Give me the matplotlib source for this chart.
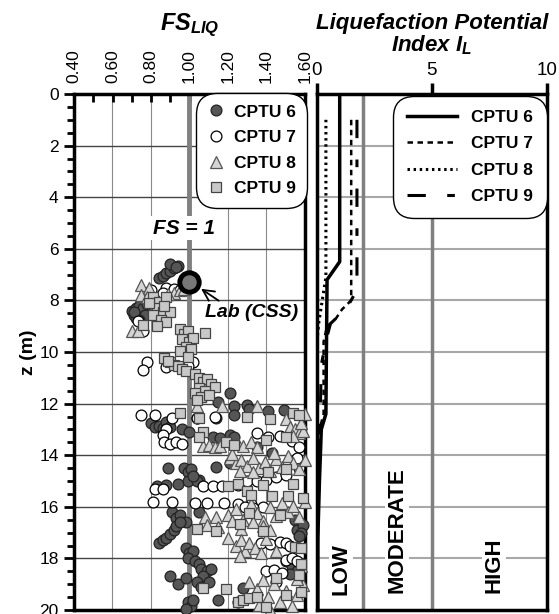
import numpy as np
import matplotlib.pyplot as plt

plt.rcParams['font.family'] = ['Liberation Sans', 'DejaVu Sans']
plt.rcParams['mathtext.fontset'] = 'custom'
plt.rcParams['mathtext.it'] = 'Liberation Sans:bold:italic'
plt.rcParams['mathtext.rm'] = 'Liberation Sans:bold:italic'
plt.rcParams['mathtext.bf'] = 'Liberation Sans:bold:italic'

# FS_LIQ points (FS, z)
cptu6 = [(0.84, 7.15), (0.86, 7.05), (0.88, 6.95), (0.90, 6.85), (0.92, 6.75), (0.94, 6.65), (0.90, 6.6), (0.93, 6.7),
         (0.70, 8.40), (0.71, 8.55), (0.72, 8.30), (0.73, 8.65), (0.74, 8.20), (0.75, 8.45), (0.76, 8.30), (0.77, 8.55),
         (0.72, 8.70), (0.74, 8.75), (0.78, 8.15), (0.71, 8.45),
         (1.07, 11.70), (1.15, 11.95), (1.21, 11.60), (1.23, 12.10), (1.23, 12.45), (1.30, 12.05), (1.31, 12.20),
         (1.41, 12.30), (1.49, 12.25),
         (0.80, 12.75), (0.82, 12.90), (0.84, 12.85), (0.86, 12.95), (0.88, 12.70), (0.90, 12.90), (0.96, 13.00),
         (1.00, 13.10), (1.04, 12.55), (1.14, 12.55), (1.12, 13.30), (1.21, 13.20), (1.16, 13.35), (1.23, 13.30),
         (1.35, 13.70), (1.43, 13.90), (1.21, 14.30), (1.14, 14.45),
         (0.89, 14.50), (0.97, 14.50), (0.99, 14.65), (1.01, 14.55), (1.05, 14.95), (0.83, 15.20), (0.88, 15.15),
         (0.94, 15.10), (0.99, 15.00), (1.04, 15.00), (1.02, 14.80),
         (0.91, 16.20), (0.93, 16.45), (0.95, 16.30), (0.98, 16.60), (1.05, 16.20),
         (0.84, 17.40), (0.86, 17.30), (0.88, 17.20), (0.90, 17.05), (0.92, 16.90), (0.93, 16.75), (0.95, 16.60),
         (0.98, 17.60), (1.00, 17.80), (1.02, 17.70), (0.99, 18.00), (1.03, 18.10), (1.05, 18.20), (1.06, 18.40),
         (1.09, 18.50), (1.11, 18.40), (1.07, 18.70), (1.04, 18.90), (1.06, 19.10), (1.10, 18.90),
         (0.90, 18.70), (0.94, 19.00), (0.98, 18.75), (0.99, 19.70), (1.01, 19.85), (0.98, 19.95), (1.02, 19.60),
         (1.15, 19.60), (1.28, 19.15),
         (1.55, 16.50), (1.57, 16.60), (1.58, 16.80), (1.56, 16.90), (1.59, 16.70), (1.58, 17.00), (1.57, 17.15),
         (1.50, 18.10), (1.53, 18.30), (1.56, 18.50), (1.52, 18.60)]

cptu7 = [(0.88, 7.50), (0.92, 7.55), (0.95, 7.60), (0.86, 7.70), (0.80, 7.60), (0.76, 9.20), (0.73, 8.80),
         (0.78, 10.40), (0.76, 10.70), (0.88, 10.60), (1.02, 10.40), (0.99, 10.55),
         (0.75, 12.45), (0.82, 12.45), (0.91, 12.55), (1.04, 12.55), (1.13, 12.50), (0.88, 13.00), (0.86, 13.20),
         (1.35, 13.15), (1.41, 13.30), (1.47, 13.25), (1.53, 13.45),
         (0.87, 13.50), (0.90, 13.55), (0.93, 13.50), (0.96, 13.55),
         (1.07, 15.20), (1.12, 15.20), (1.17, 15.20), (1.25, 15.15), (1.30, 15.00), (1.35, 15.00), (1.40, 14.95),
         (1.45, 14.85), (1.50, 14.75), (1.57, 14.50), (1.57, 13.70), (1.56, 14.10),
         (0.82, 15.30), (0.86, 15.30),
         (0.81, 15.80), (0.91, 15.80), (1.03, 15.85), (1.09, 15.85), (1.18, 15.85), (1.25, 15.90), (1.32, 15.90),
         (1.38, 16.00), (1.33, 16.05), (1.29, 16.00),
         (1.37, 17.40), (1.42, 17.45), (1.47, 17.35), (1.50, 17.40), (1.52, 17.50),
         (1.40, 18.50), (1.44, 18.45), (1.48, 18.55), (1.50, 18.05), (1.53, 18.00), (1.56, 18.10), (1.25, 19.70),
         (1.45, 18.90)]

cptu8 = [(0.75, 7.40), (0.79, 7.50), (0.75, 7.80), (0.78, 7.85), (0.70, 9.20), (0.73, 9.20), (0.92, 7.70),
         (0.95, 7.60), (0.97, 7.55), (0.89, 7.75),
         (1.04, 12.10), (1.17, 12.10), (1.35, 12.10), (1.50, 12.60), (1.60, 12.40), (1.52, 12.90), (1.55, 13.00),
         (1.57, 13.15), (1.59, 13.05), (1.54, 13.25), (1.58, 12.75),
         (1.07, 13.65), (1.10, 13.60), (1.13, 13.70), (1.16, 13.65), (1.25, 13.55), (1.28, 13.65), (1.32, 13.50),
         (1.35, 13.70),
         (1.21, 14.10), (1.24, 14.30), (1.27, 14.20), (1.30, 14.40), (1.33, 14.10), (1.36, 14.50), (1.39, 14.25),
         (1.42, 14.60), (1.45, 14.15), (1.48, 14.45), (1.51, 14.05), (1.54, 14.30), (1.57, 14.55), (1.60, 14.20),
         (1.26, 14.60), (1.33, 14.65), (1.22, 13.95), (1.44, 13.90),
         (1.08, 16.40), (1.14, 16.40), (1.20, 16.30), (1.24, 16.10), (1.28, 16.50), (1.32, 15.90), (1.35, 16.25),
         (1.38, 16.55), (1.42, 16.00), (1.45, 16.35), (1.48, 15.85), (1.51, 16.20), (1.54, 15.95), (1.57, 16.40),
         (1.60, 15.80),
         (1.09, 16.70), (1.15, 16.80), (1.22, 16.55), (1.27, 16.85), (1.33, 16.60), (1.38, 16.75), (1.42, 16.90),
         (1.20, 17.20), (1.24, 17.50), (1.27, 17.30), (1.29, 17.70), (1.31, 17.40), (1.34, 17.60), (1.37, 17.80),
         (1.40, 17.25), (1.45, 17.70), (1.26, 17.90),
         (1.31, 18.90), (1.35, 19.20), (1.38, 18.85), (1.41, 19.50), (1.44, 19.00), (1.47, 19.70), (1.50, 19.25),
         (1.53, 19.85), (1.56, 19.40), (1.59, 19.05), (1.36, 19.80), (1.42, 20.00), (1.58, 18.30), (1.56, 18.80)]

cptu9 = [(0.81, 7.85), (0.84, 8.05), (0.88, 7.85), (0.83, 8.30), (0.86, 8.45), (0.90, 8.45), (0.81, 8.55),
         (0.85, 8.75), (0.88, 8.85), (0.76, 8.95), (0.83, 9.00), (0.79, 8.10), (0.87, 8.20),
         (0.95, 9.10), (0.97, 9.30), (0.99, 9.20), (0.96, 9.50), (1.00, 9.60), (1.02, 9.45), (0.98, 9.80),
         (1.01, 9.90), (0.95, 9.95), (1.08, 9.25),
         (0.87, 10.25), (0.90, 10.40), (0.92, 10.50), (0.94, 10.55), (0.96, 10.65), (0.98, 10.75), (0.89, 10.35),
         (0.99, 10.20),
         (1.03, 10.85), (1.05, 11.00), (1.07, 11.15), (1.09, 11.05), (1.11, 11.25), (1.05, 11.40), (1.08, 11.50),
         (1.13, 11.35), (1.03, 11.60), (1.06, 11.75), (1.10, 11.65), (1.04, 11.85),
         (1.05, 12.55), (1.30, 12.50), (1.42, 12.60), (1.54, 12.35), (1.57, 12.45), (0.95, 12.35), (1.07, 13.10),
         (1.05, 13.30), (1.19, 13.50), (1.23, 13.60), (1.40, 13.40), (1.50, 13.30), (1.41, 14.65), (1.50, 14.55),
         (1.54, 15.10),
         (1.20, 15.20), (1.25, 15.10), (1.30, 15.40), (1.32, 15.55), (1.38, 15.15), (1.43, 15.60), (1.51, 15.60),
         (1.59, 15.65), (1.47, 16.30), (1.31, 16.25),
         (1.04, 16.85), (1.14, 16.95), (1.38, 16.95), (1.26, 16.65), (1.55, 17.55), (1.58, 17.60), (1.57, 18.65),
         (1.45, 18.75), (1.58, 18.20),
         (1.07, 19.15), (1.19, 19.20), (1.25, 19.70), (1.28, 19.60), (1.31, 19.55), (1.40, 19.90), (1.50, 19.40),
         (1.58, 19.30), (1.35, 19.50)]

lab_fs, lab_z = 1.0, 7.3

# Liquefaction potential index profiles (I_L, z)
il6 = [(1.0, 0.0), (1.0, 6.5), (0.45, 7.2), (0.4, 12.4), (0.2, 13.0), (0.12, 15.0), (0.05, 17.2), (0.05, 20.0)]
il7 = [(1.5, 1.0), (1.5, 8.0), (1.1, 8.35), (0.8, 8.75), (0.45, 9.0), (0.3, 9.6), (0.3, 12.4), (0.12, 13.0),
       (0.05, 17.0), (0.03, 20.0)]
il8 = [(0.4, 1.0), (0.4, 7.1), (0.1, 8.8), (0.02, 9.5), (0.02, 20.0)]
il9 = [(1.75, 1.0), (1.75, 7.6), (1.3, 8.3), (0.6, 8.9), (0.42, 9.5), (0.2, 10.5), (0.15, 12.6), (0.05, 13.5),
       (0.03, 20.0)]

labels = ['CPTU 6', 'CPTU 7', 'CPTU 8', 'CPTU 9']

fig = plt.figure(figsize=(5.59, 6.14), dpi=100)
ax1 = fig.add_axes([74 / 559, 4 / 614, 231 / 559, 516 / 614])
ax2 = fig.add_axes([316.7 / 559, 4 / 614, 230 / 559, 516 / 614])

# ---- left panel: FS_LIQ
ax1.set_xlim(0.4, 1.6)
ax1.set_ylim(20, 0)
for v in [0.6, 0.8, 1.2, 1.4]:
    ax1.axvline(v, color='#8a8a8a', lw=0.8, zorder=1)
for h in np.arange(2, 20, 2):
    ax1.axhline(h, color='#444444', lw=1.0, zorder=1)
ax1.axvline(1.0, color='#808080', lw=3.5, zorder=2)

styles = [dict(marker='o', mfc='#555555', mec='#222222', ms=7.8),
          dict(marker='o', mfc='white', mec='black', ms=7.8),
          dict(marker='^', mfc='#d4d4d4', mec='#555555', ms=8.8),
          dict(marker='s', mfc='#c8c8c8', mec='#444444', ms=7.2)]
for pts, st, lab in zip([cptu6, cptu7, cptu8, cptu9], styles, labels):
    a = np.array(pts)
    ax1.plot(a[:, 0], a[:, 1], ls='none', mew=0.9, label=lab, zorder=3, clip_on=False, **st)

ax1.plot([lab_fs], [lab_z], 'o', ms=14, mfc='#777777', mec='black', mew=3.5, zorder=6)
ax1.annotate('Lab (CSS)', xy=(1.06, 7.55), xytext=(1.325, 8.45), ha='center', va='center',
             fontsize=14, fontweight='bold', fontstyle='italic', zorder=7,
             arrowprops=dict(arrowstyle='->', lw=1.3, color='black', shrinkA=0, shrinkB=0,
                             relpos=(0.2, 0.95), mutation_scale=20))
ax1.text(0.97, 5.2, 'FS = 1', ha='center', va='center', fontsize=15, fontweight='bold',
         fontstyle='italic', zorder=7, bbox=dict(fc='white', ec='none', pad=2))

leg1 = ax1.legend(loc='upper right', bbox_to_anchor=(0.993, 0.995), borderaxespad=0,
                  prop=dict(weight='bold', size=12.5), handletextpad=0.5, labelspacing=0.6,
                  borderpad=0.45, handlelength=1.0, framealpha=1, edgecolor='black', fancybox=True)
leg1.get_frame().set_boxstyle('round', pad=0.2, rounding_size=1.2)
leg1.get_frame().set_linewidth(1.0)
leg1.set_zorder(8)

ax1.xaxis.set_ticks_position('top')
ax1.set_xticks(np.arange(0.4, 1.61, 0.2))
ax1.set_xticks(np.arange(0.5, 1.6, 0.2), minor=True)
ax1.set_xticklabels(['%.2f' % v for v in np.arange(0.4, 1.61, 0.2)], rotation=90, fontsize=12.5)
ax1.tick_params(axis='x', which='both', direction='in', length=6, width=2, pad=8)
ax1.set_yticks(np.arange(0, 21, 2))
ax1.set_yticks(np.arange(0, 20.1, 0.5), minor=True)
ax1.tick_params(axis='y', which='major', direction='out', length=7, width=2, labelsize=12.5, pad=4)
ax1.tick_params(axis='y', which='minor', direction='out', length=5, width=2)
for s in ax1.spines.values():
    s.set_linewidth(2.5)
ax1.set_ylabel('z (m)', fontsize=14, fontweight='bold', labelpad=2)

# ---- right panel: I_L
ax2.set_xlim(0, 10)
ax2.set_ylim(20, 0)
for h in np.arange(2, 20, 2):
    ax2.axhline(h, color='#a8a8a8', lw=1.5, zorder=1)
for v in [2, 5]:
    ax2.axvline(v, color='#808080', lw=2.5, zorder=1)

line_styles = [dict(ls='-', lw=2.5),
               dict(ls=(0, (2.2, 1.8)), lw=1.8),
               dict(ls=(0, (0.8, 1.2)), lw=2.2),
               dict(ls=(0, (6, 7, 2.5, 7)), lw=2.2)]
for prof, st, lab in zip([il6, il7, il8, il9], line_styles, labels):
    a = np.array(prof)
    ax2.plot(a[:, 0], a[:, 1], color='black', label=lab, zorder=3, **st)

leg2 = ax2.legend(loc='upper right', bbox_to_anchor=(0.985, 0.99), borderaxespad=0,
                  prop=dict(weight='bold', size=12.5), handlelength=2.9, handletextpad=0.8,
                  labelspacing=0.65, borderpad=0.6, framealpha=1, edgecolor='black', fancybox=True)
leg2.get_frame().set_boxstyle('round', pad=0.2, rounding_size=1.2)
leg2.get_frame().set_linewidth(1.0)

for txt, x, z in [('LOW', 1.05, 18.4), ('MODERATE', 3.5, 16.9), ('HIGH', 7.7, 18.25)]:
    ax2.text(x, z, txt, rotation=90, ha='center', va='center', fontsize=16, fontweight='bold',
             zorder=4, bbox=dict(fc='white', ec='none', pad=1))

ax2.xaxis.set_ticks_position('top')
ax2.set_xticks([0, 5, 10])
ax2.tick_params(axis='x', direction='out', length=8, width=2.5, labelsize=13.5, pad=3)
ax2.set_yticks([])
for s in ax2.spines.values():
    s.set_linewidth(2.5)

fig.text(190 / 559, 1 - 25 / 614, r'$FS_{LIQ}$', ha='center', va='center', fontsize=17)
fig.text((316.7 + 115) / 559, 1 - 35 / 614, 'Liquefaction Potential\nIndex $I_{L}$',
         ha='center', va='center', fontsize=16, fontweight='bold', fontstyle='italic', linespacing=1.0)

fig.savefig('out.png', dpi=100)
